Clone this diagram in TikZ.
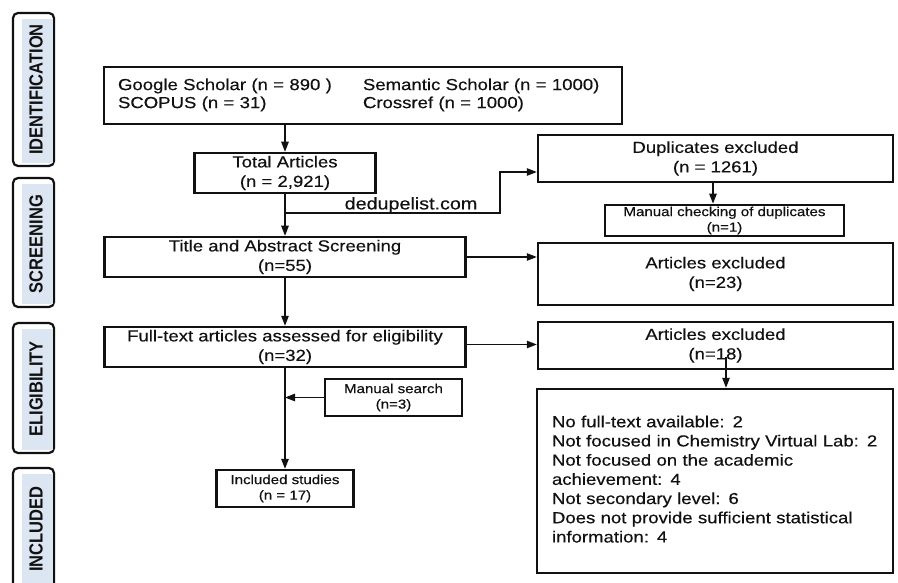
\documentclass[tikz,border=0pt]{standalone}
\usepackage{fontspec}
\setmainfont{Liberation Sans}[FakeStretch=1.16,FakeBold=0.35]
\newfontfamily\plainsans{Liberation Sans}
\usetikzlibrary{arrows.meta}
\definecolor{sideblue}{HTML}{DCE6F2}
\definecolor{ink}{HTML}{111111}
\tikzset{
  box/.style={draw=ink, line width=2.5pt, fill=white, inner sep=0pt, align=center, text=ink, font=\fontsize{16}{19.5}\selectfont},
  smallbox/.style={box, line width=2.8pt, font=\fontsize{13}{15.5}\selectfont},
  arr/.style={draw=ink, line width=1.3pt, -{Triangle[length=10pt,width=7.5pt]}},
  sidebox/.style={draw=ink, line width=2.2pt, rounded corners=5pt, fill=white, inner sep=0pt},
  sidetext/.style={rotate=90, inner sep=0pt, font=\plainsans\bfseries\fontsize{16.5}{18}\selectfont, text=ink},
}
\begin{document}
\begin{tikzpicture}[x=1pt,y=-1pt]
\useasboundingbox (0,0) rectangle (898,583);
\fill[white] (0,0) rectangle (898,583);

% side labels
\node[sidebox, minimum width=41pt, minimum height=153pt] (idf) at (33.5,89.5) {};
\node[sidebox, minimum width=41pt, minimum height=129pt] (scr) at (33.5,242.5) {};
\node[sidebox, minimum width=41pt, minimum height=130pt] (eli) at (33.5,388) {};
\node[sidebox, minimum width=41pt, minimum height=132pt] (inl) at (33.5,534) {};
\foreach \n in {idf,scr,eli,inl}{
  \fill[sideblue] ([xshift=10pt,yshift=4pt]\n.south west) rectangle ([xshift=-2.4pt,yshift=-7pt]\n.north east);
}
\node[sidetext] (idft) at (36,89.5) {\scalebox{1}[1.15]{IDENTIFICATION}};
\node[sidetext] (scrt) at (36,244) {\scalebox{1}[1.15]{SCREENING}};
\node[sidetext] (elit) at (36,389) {\scalebox{1}[1.15]{ELIGIBILITY}};
\node[sidetext] (inlt) at (36,529) {\scalebox{1}[1.15]{INCLUDED}};

% main column
\node[box, text width=490pt, inner xsep=14pt, minimum height=57pt, align=left, font=\fontsize{16}{18}\selectfont] (src) at (363,95.5)
  {\begin{tabular}{@{}p{245pt}@{}l@{}}Google Scholar (n = 890 ) & Semantic Scholar (n = 1000)\\ SCOPUS (n = 31) & Crossref (n = 1000)\end{tabular}};
\node[box, minimum width=181pt, minimum height=40pt] (tot) at (285,173) {Total Articles\\(n = 2,921)};
\node[box, minimum width=361pt, minimum height=40pt] (tas) at (285,257) {Title and Abstract Screening\\(n=55)};
\node[box, minimum width=361pt, minimum height=40pt] (ft) at (285,347) {Full-text articles assessed for eligibility\\(n=32)};
\node[smallbox, line width=2.4pt, minimum width=137pt, minimum height=37pt] (ms) at (393.5,397.5) {Manual search\\(n=3)};
\node[smallbox, line width=2.4pt, minimum width=137pt, minimum height=37pt] (inc) at (285,488.5) {Included studies\\(n = 17)};

% right column
\node[box, minimum width=355pt, minimum height=47pt] (dup) at (715.5,158.5) {Duplicates excluded\\(n = 1261)};
\node[smallbox, minimum width=239pt, minimum height=31pt] (man) at (724.5,220.5) {Manual checking of duplicates\\(n=1)};
\node[box, minimum width=355pt, minimum height=62pt] (ex23) at (715.5,274) {Articles excluded\\(n=23)};
\node[box, minimum width=355pt, minimum height=47pt] (ex18) at (715.5,345.5) {Articles excluded\\(n=18)};
\node[box, text width=326pt, inner xsep=15pt, minimum height=184pt, align=left, font=\fontsize{16}{19.2}\selectfont] (big) at (715,481)
  {\begin{tabular}{@{}l@{}}No full-text available: 2\\ Not focused in Chemistry Virtual Lab: 2\\ Not focused on the academic\\ achievement: 4\\ Not secondary level: 6\\ Does not provide sufficient statistical\\ information: 4\end{tabular}};

% connectors
\draw[arr] (src.south -| tot.north) -- (tot.north);
\draw[arr] (tot.south) -- (tas.north);
\draw[arr] (tas.south) -- (ft.north);
\draw[arr] (ft.south) -- (inc.north);
\coordinate (d1) at (285,213);
\coordinate (d2) at (500,213);
\draw[arr] (d1) -- (d2) |- ([yshift=-13.5pt]dup.west);
\node[inner sep=0pt, text=ink, font=\fontsize{17}{18}\selectfont] (dl) at (411,205) {dedupelist.com};
\draw[arr] ([xshift=-2.5pt]dup.south) -- ([xshift=-2.5pt]dup.south |- man.north);
\draw[arr] (tas.east) -- (tas.east -| ex23.west);
\draw[arr] ([yshift=2.5pt]ft.east) -- ([yshift=2.5pt]ft.east -| ex18.west);
\coordinate (e18) at (726,357);
\draw[arr] (e18) -- (e18 |- big.north);
\draw[arr] (ms.west) -- (ms.west -| ft.south);
\end{tikzpicture}
\end{document}
